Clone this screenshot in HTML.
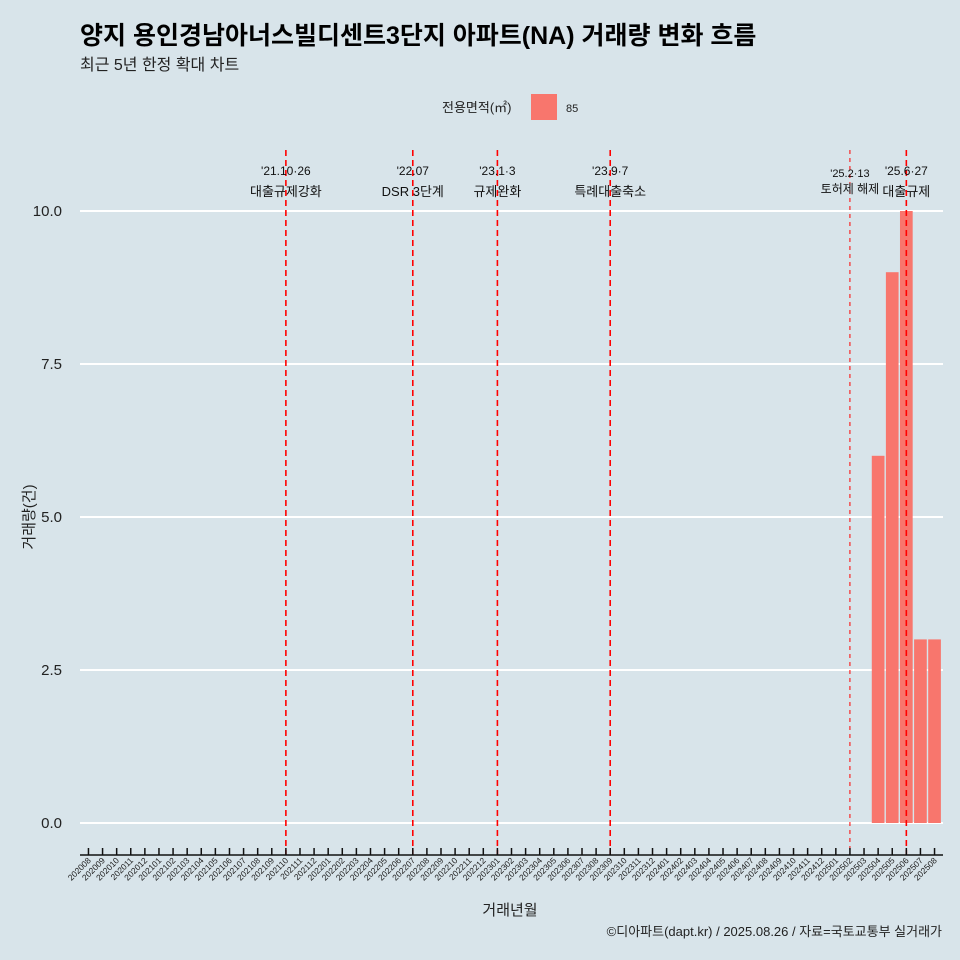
<!DOCTYPE html>
<html><head><meta charset="utf-8"><style>
body{margin:0;background:#d8e4ea;}
svg{display:block;font-family:"Liberation Sans","Noto Sans CJK KR",sans-serif;}
</style></head><body>
<svg id="c" width="960" height="960">
<rect width="960" height="960" fill="#d8e4ea"/>
<text x="80" y="44" font-size="25" font-weight="bold" fill="#000">양지 용인경남아너스빌디센트3단지 아파트(NA) 거래량 변화 흐름</text>
<text x="80" y="70" font-size="16" fill="#222">최근 5년 한정 확대 차트</text>
<text x="442" y="112" font-size="13" fill="#222">전용면적(㎡)</text>
<rect x="531" y="94" width="26" height="26" fill="#f8766d"/>
<text x="566" y="112" font-size="11" fill="#222">85</text>
<g id="grid"></g><g id="bars"></g><g id="events"></g><g id="xaxis"></g><g id="yaxis"></g>
<text x="510" y="915" font-size="15" text-anchor="middle" fill="#222">거래년월</text>
<text transform="translate(34,517) rotate(-90)" font-size="15" text-anchor="middle" fill="#222">거래량(건)</text>
<text x="942" y="936" font-size="13" text-anchor="end" fill="#222">©디아파트(dapt.kr) / 2025.08.26 / 자료=국토교통부 실거래가</text>
</svg>
<script>
const months=[];for(let y=2020;y<=2025;y++)for(let m=1;m<=12;m++){const k=y*100+m;if(k>=202008&&k<=202508)months.push(String(k));}
const barMonths=["202504","202505","202506","202507","202508"];
const barValues=[6,9,10,3,3];
const yTicks=[0,2.5,5,7.5,10];
const yTickLabels=["0.0","2.5","5.0","7.5","10.0"];
const eventMonths=["202110","202207","202301","202309","202502","202506"];
const eventDates=["'21.10·26","'22.07","'23.1·3","'23.9·7","'25.2·13","'25.6·27"];
const eventNames=["대출규제강화","DSR 3단계","규제완화","특례대출축소","토허제 해제","대출규제"];
const NS="http://www.w3.org/2000/svg";
const L=80,R=943,step=(R-L)/(months.length-1+1.2);
const x=m=>L+(0.6+months.indexOf(m))*step;
const y=v=>823-v*61.2;
function mk(p,t,a){const e=document.createElementNS(NS,t);for(const k in a)e.setAttribute(k,a[k]);document.getElementById(p).appendChild(e);return e;}
yTicks.forEach((v,i)=>{
 const g=mk("grid","line",{x1:L,x2:R,y1:y(v),y2:y(v),stroke:"#fff","stroke-width":2});
 
 
 const t=mk("yaxis","text",{x:62,y:y(v)+5,"font-size":15,"text-anchor":"end",fill:"#222"});t.textContent=yTickLabels[i];
 
 
});
barMonths.forEach((m,i)=>{
 const w=step*0.9;
 const b=mk("bars","rect",{x:x(m)-w/2,y:y(barValues[i]),width:w,height:y(0)-y(barValues[i]),fill:"#f8766d"});
 
 
});
eventMonths.forEach((m,i)=>{
 const xx=x(m);const thin=m==="202502";
 const l=mk("events","line",{x1:xx,x2:xx,y1:150,y2:855,stroke:"#ff0000","stroke-width":thin?1:1.6,"stroke-dasharray":thin?"4,4":"6,4"});
 
 
 const t1=mk("events","text",{x:xx,y:thin?177:175,"font-size":thin?11:12,"text-anchor":"middle",fill:"#111"});t1.textContent=eventDates[i];
 
 
 const t2=mk("events","text",{x:xx,y:thin?193:196,"font-size":thin?12:13,"text-anchor":"middle",fill:"#111"});t2.textContent=eventNames[i];
 
 
});
const ax=mk("xaxis","line",{x1:L,x2:R,y1:855,y2:855,stroke:"#111","stroke-width":1.5});


months.forEach(m=>{
 const xx=x(m);
 const tk=mk("xaxis","line",{x1:xx,x2:xx,y1:848,y2:855,stroke:"#111","stroke-width":1.5});
 
 
 const t=mk("xaxis","text",{x:xx+3,y:861,"font-size":8.5,"text-anchor":"end",fill:"#222",transform:`rotate(-45 ${xx+3} 861)`});t.textContent=m;
 
 
});
</script>
</body></html>
